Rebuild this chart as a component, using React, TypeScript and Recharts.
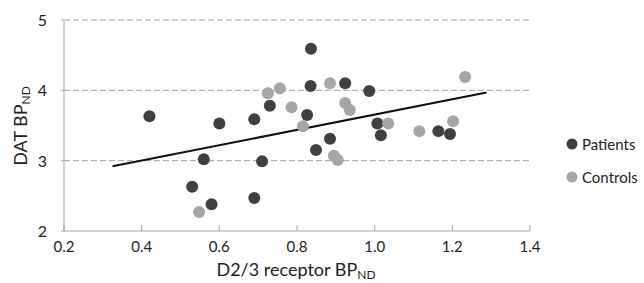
import {
  ScatterChart,
  Scatter,
  XAxis,
  YAxis,
  CartesianGrid,
  ReferenceLine,
} from "recharts";

interface Pt {
  x: number;
  y: number;
}

const patients: Pt[] = [
  { x: 0.42, y: 3.63 },
  { x: 0.6, y: 3.53 },
  { x: 0.56, y: 3.02 },
  { x: 0.53, y: 2.63 },
  { x: 0.58, y: 2.38 },
  { x: 0.69, y: 2.47 },
  { x: 0.69, y: 3.59 },
  { x: 0.71, y: 2.99 },
  { x: 0.73, y: 3.78 },
  { x: 0.836, y: 4.59 },
  { x: 0.835, y: 4.06 },
  { x: 0.826, y: 3.65 },
  { x: 0.924, y: 4.1 },
  { x: 0.986, y: 3.99 },
  { x: 0.849, y: 3.15 },
  { x: 0.885, y: 3.31 },
  { x: 1.007, y: 3.53 },
  { x: 1.016, y: 3.36 },
  { x: 1.164, y: 3.42 },
  { x: 1.194, y: 3.38 },
];

const controls: Pt[] = [
  { x: 0.548, y: 2.27 },
  { x: 0.725, y: 3.96 },
  { x: 0.756, y: 4.03 },
  { x: 0.786, y: 3.76 },
  { x: 0.815, y: 3.49 },
  { x: 0.885, y: 4.1 },
  { x: 0.924, y: 3.82 },
  { x: 0.936, y: 3.72 },
  { x: 0.895, y: 3.07 },
  { x: 0.905, y: 3.01 },
  { x: 1.035, y: 3.53 },
  { x: 1.115, y: 3.42 },
  { x: 1.202, y: 3.56 },
  { x: 1.233, y: 4.19 },
];

const trend: Pt[] = [
  { x: 0.325, y: 2.92 },
  { x: 1.288, y: 3.97 },
];

const xTicks = [0.2, 0.4, 0.6, 0.8, 1.0, 1.2, 1.4];
const yTicks = [2, 3, 4, 5];

const DARK = "#404040";
const LIGHT = "#a6a6a6";
const AXIS = "#a6a6a6";
const FONT = "Lato, 'Open Sans', sans-serif";

const dot = (fill: string) => (props: any) =>
  <circle cx={props.cx} cy={props.cy} r={6} fill={fill} />;

const XTick = (props: any) => {
  const { x, y, payload } = props;
  return (
    <g>
      <line x1={x} x2={x} y1={y - 6} y2={y} stroke={AXIS} />
      <text x={x} y={y + 21} textAnchor="middle" fontSize={15} fill="#222" fontFamily={FONT}>
        {payload.value.toFixed(1)}
      </text>
    </g>
  );
};

const YTick = (props: any) => {
  const { x, y, payload } = props;
  return (
    <g>
      <line x1={x - 3} x2={x} y1={y} y2={y} stroke={AXIS} />
      <text x={x - 17} y={y + 6} textAnchor="end" fontSize={16} fill="#222" fontFamily={FONT}>
        {payload.value}
      </text>
    </g>
  );
};

export default function App() {
  return (
    <div style={{ position: "absolute", left: 0, top: 0, background: "#fff" }}>
      <ScatterChart
        width={644}
        height={283}
        margin={{ top: 20, right: 114, bottom: 0, left: 0 }}
      >
        <CartesianGrid
          horizontal
          vertical={false}
          stroke="#a0a0a0"
          strokeDasharray="6 3"
          horizontalValues={[3, 4, 5]}
        />
        <XAxis
          type="number"
          dataKey="x"
          domain={[0.2, 1.4]}
          ticks={xTicks}
          height={52}
          tickSize={0}
          tickMargin={0}
          tickLine={false}
          axisLine={{ stroke: AXIS }}
          tick={<XTick />}
          interval={0}
        />
        <YAxis
          type="number"
          dataKey="y"
          domain={[2, 5]}
          ticks={yTicks}
          width={64}
          tickSize={0}
          tickMargin={0}
          tickLine={false}
          axisLine={{ stroke: AXIS }}
          tick={<YTick />}
          interval={0}
        />
        <Scatter name="Patients" data={patients} shape={dot(DARK)} isAnimationActive={false} />
        <Scatter name="Controls" data={controls} shape={dot(LIGHT)} isAnimationActive={false} />
        <ReferenceLine
          segment={[trend[0], trend[1]]}
          stroke="#111"
          strokeWidth={2}
        />
      </ScatterChart>
      <svg
        width={644}
        height={283}
        style={{ position: "absolute", left: 0, top: 0, pointerEvents: "none" }}
      >
        <text x={296} y={276} textAnchor="middle" fontSize={18} fill="#222" fontFamily={FONT}>
          D2/3 receptor BP
          <tspan fontSize={12} dy={3}>ND</tspan>
        </text>
        <text
          transform="translate(27,126) rotate(-90)"
          textAnchor="middle"
          fontSize={18}
          fill="#222"
          fontFamily={FONT}
        >
          DAT BP
          <tspan fontSize={12} dy={3}>ND</tspan>
        </text>
        <circle cx={572} cy={144} r={5.5} fill={DARK} />
        <text x={582} y={150} fontSize={15} fill="#222" fontFamily={FONT}>Patients</text>
        <circle cx={572} cy={177} r={5.5} fill={LIGHT} />
        <text x={582} y={183} fontSize={15} fill="#222" fontFamily={FONT}>Controls</text>
      </svg>
    </div>
  );
}
